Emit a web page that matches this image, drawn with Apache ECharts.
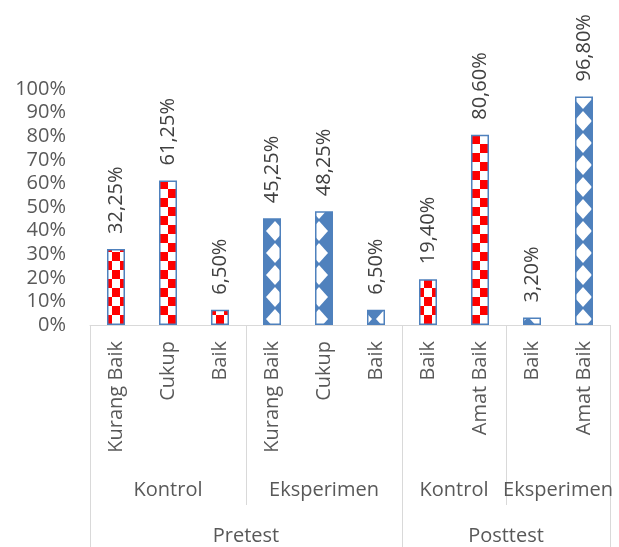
<!DOCTYPE html>
<html>
<head>
<meta charset="utf-8">
<script src="https://cdn.jsdelivr.net/npm/echarts@6/dist/echarts.min.js"></script>
<style>
  html, body { margin: 0; padding: 0; background: #fff; }
  #chart { width: 619px; height: 547px; }
</style>
</head>
<body>
<div id="chart"></div>
<script>
  const categories = ['Kurang Baik', 'Cukup', 'Baik', 'Kurang Baik', 'Cukup', 'Baik', 'Baik', 'Amat Baik', 'Baik', 'Amat Baik'];
  const values = [32.25, 61.25, 6.5, 45.25, 48.25, 6.5, 19.4, 80.6, 3.2, 96.8];
  const groups = ['Kontrol', 'Eksperimen', 'Kontrol', 'Eksperimen'];
  const groupSizes = [3, 3, 2, 2];
  const phases = ['Pretest', 'Posttest'];
  const phaseSizes = [6, 4];
  const yTicks = [0, 100, 10]; // min, max, step

  const font = '"Open Sans", sans-serif';
  const blue = '#4f81bd';

  // half-step slots so a group label can sit between two bars
  function buildLevel(names, sizes) {
    const slots = new Array(categories.length * 2 + 1).fill('');
    const edges = [0];
    let start = 0;
    names.forEach((n, i) => {
      slots[start * 2 + sizes[i]] = n;
      start += sizes[i];
      edges.push(start * 2);
    });
    return {slots, edges};
  }
  const level2 = buildLevel(groups, groupSizes);
  const level3 = buildLevel(phases, phaseSizes);

  // group of each bar
  const barGroup = [];
  groups.forEach((g, i) => { for (let k = 0; k < groupSizes[i]; k++) barGroup.push(g); });

  function checker() {
    const c = document.createElement('canvas');
    c.width = 16; c.height = 18;
    const ctx = c.getContext('2d');
    ctx.fillStyle = '#fff';
    ctx.fillRect(0, 0, 16, 18);
    ctx.fillStyle = '#ff0000';
    ctx.fillRect(0, 0, 8, 9);
    ctx.fillRect(8, 9, 8, 9);
    return c;
  }

  function diamonds() {
    const c = document.createElement('canvas');
    c.width = 22; c.height = 22;
    const ctx = c.getContext('2d');
    ctx.fillStyle = blue;
    ctx.fillRect(0, 0, 22, 22);
    ctx.fillStyle = '#fff';
    ctx.beginPath();
    ctx.moveTo(11, 1); ctx.lineTo(20, 11); ctx.lineTo(11, 21); ctx.lineTo(2, 11);
    ctx.closePath();
    ctx.fill();
    return c;
  }

  const fills = {
    Kontrol: {image: checker(), repeat: 'repeat'},
    Eksperimen: {image: diamonds(), repeat: 'repeat'}
  };

  const labelStyle = {color: '#595959', fontSize: 20, fontFamily: font};

  function levelAxis(level, len, margin) {
    return {
      type: 'category',
      position: 'bottom',
      boundaryGap: false,
      data: level.slots,
      axisLine: {show: false, onZero: false},
      axisTick: {
        show: true,
        length: len,
        interval: (i) => level.edges.indexOf(i) >= 0,
        lineStyle: {color: '#d9d9d9', width: 1}
      },
      axisLabel: Object.assign({
        interval: (i, v) => v !== '',
        margin: margin
      }, labelStyle),
      splitLine: {show: false}
    };
  }

  const chart = echarts.init(document.getElementById('chart'));

  chart.setOption({
    animation: false,
    grid: {left: 90, right: 9, top: 89, bottom: 222, containLabel: false},
    xAxis: [{
      type: 'category',
      position: 'bottom',
      data: categories,
      axisLine: {onZero: false, lineStyle: {color: '#d9d9d9', width: 1}},
      axisTick: {show: false},
      axisLabel: Object.assign({interval: 0, rotate: 90, margin: 16}, labelStyle)
    },
      levelAxis(level2, 180, 155),
      levelAxis(level3, 222, 201)
    ],
    yAxis: {
      type: 'value',
      min: yTicks[0],
      max: yTicks[1],
      interval: yTicks[2],
      axisLine: {show: false},
      axisTick: {show: false},
      splitLine: {show: false},
      axisLabel: Object.assign({formatter: '{value}%', margin: 24}, labelStyle)
    },
    series: [{
      type: 'bar',
      xAxisIndex: 0,
      barWidth: 18,
      data: values.map((v, i) => ({
        value: v,
        itemStyle: {color: fills[barGroup[i]], borderColor: blue, borderWidth: 1.5}
      })),
      label: {
        show: true,
        position: 'top',
        rotate: 90,
        align: 'left',
        verticalAlign: 'middle',
        distance: 15,
        color: '#404040',
        fontSize: 20,
        fontFamily: font,
        formatter: (p) => p.value.toFixed(2).replace('.', ',') + '%'
      }
    }]
  });
</script>
</body>
</html>
